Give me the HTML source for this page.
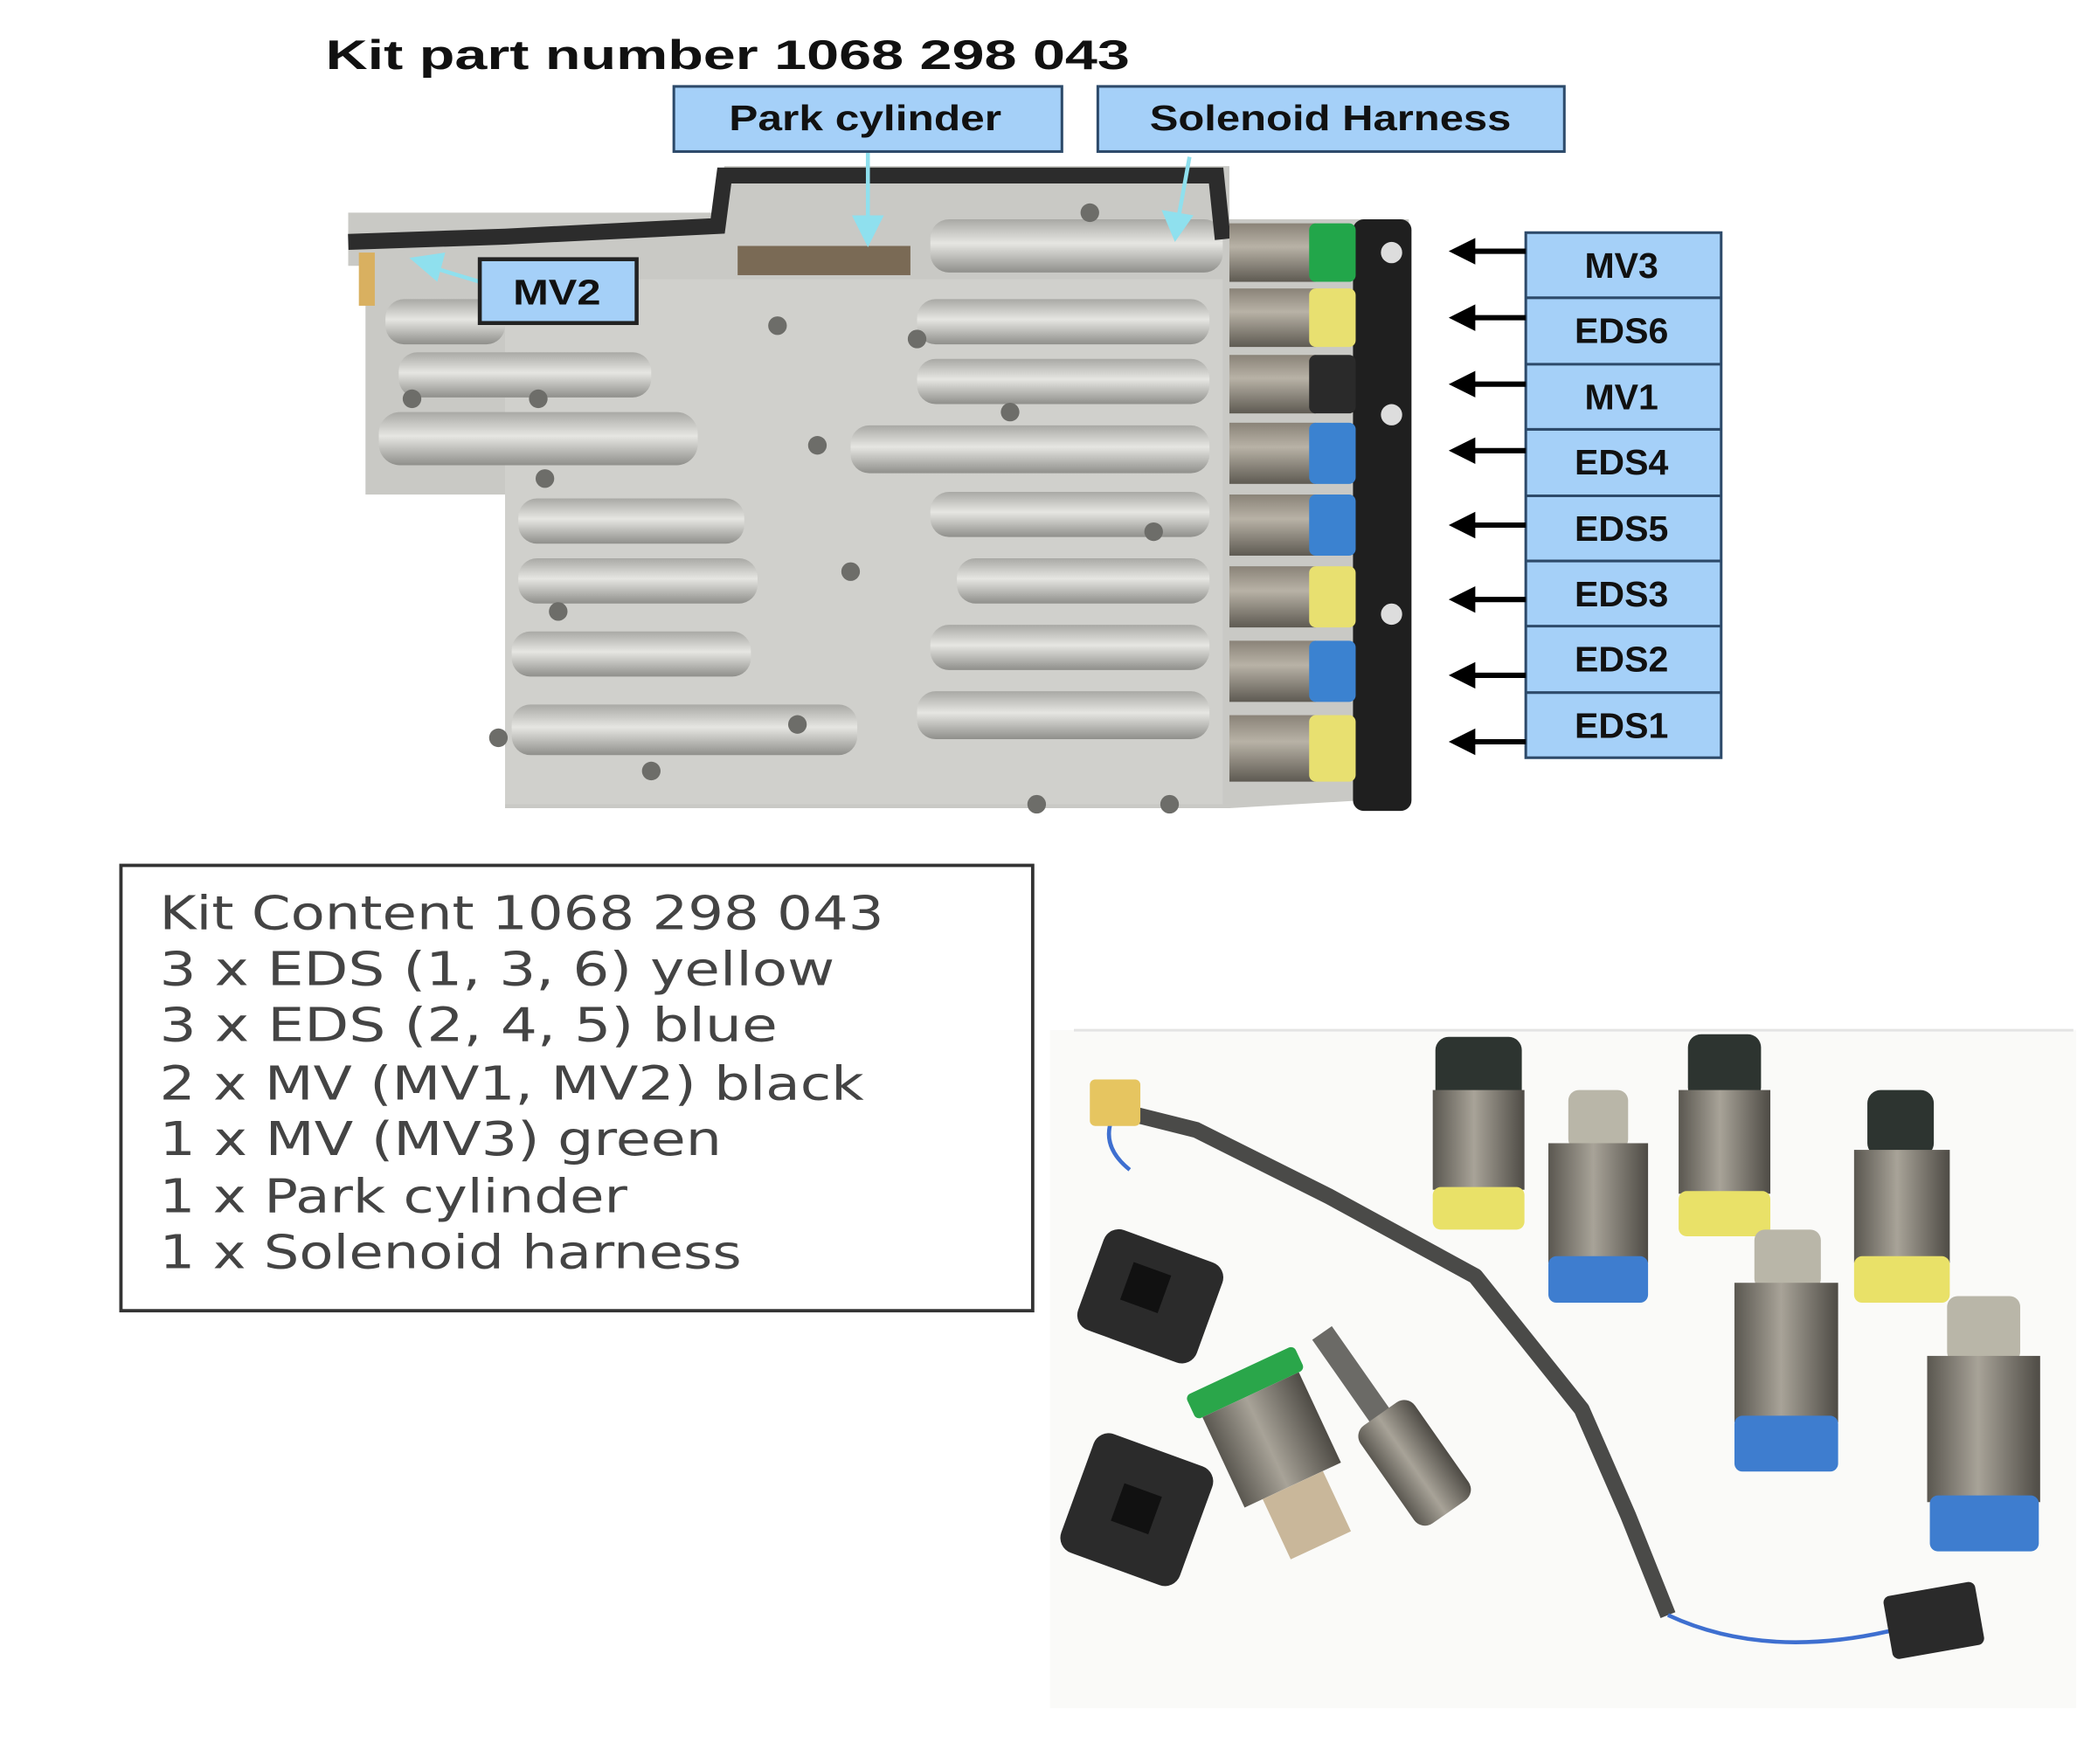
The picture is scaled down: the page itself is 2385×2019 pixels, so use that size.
<!DOCTYPE html>
<html><head><meta charset="utf-8"><style>html,body{margin:0;padding:0;background:#fff}svg{display:block}</style></head>
<body>
<svg width="2385" height="2019" viewBox="0 0 1568 1327" preserveAspectRatio="none" xmlns="http://www.w3.org/2000/svg">
<defs>
<linearGradient id="cyl" x1="0" y1="0" x2="0" y2="1"><stop offset="0" stop-color="#8a8378"/><stop offset=".4" stop-color="#b8b2a6"/><stop offset="1" stop-color="#5e5a52"/></linearGradient>
<linearGradient id="vcyl" x1="0" y1="0" x2="1" y2="0"><stop offset="0" stop-color="#5a5750"/><stop offset=".45" stop-color="#a8a398"/><stop offset="1" stop-color="#4e4b45"/></linearGradient>
<linearGradient id="spool" x1="0" y1="0" x2="0" y2="1"><stop offset="0" stop-color="#a9a9a5"/><stop offset=".45" stop-color="#e6e6e2"/><stop offset="1" stop-color="#8f8f8b"/></linearGradient>
</defs>
<rect width="1568" height="1327" fill="#fff"/>
<text x="245" y="52" font-family="Liberation Sans, sans-serif" font-weight="bold" font-size="31" fill="#111" textLength="605" lengthAdjust="spacingAndGlyphs">Kit part number 1068 298 043</text>

<polygon points="262,160 540,160 545,125 925,125 925,165 1060,165 1060,600 925,608 380,608 380,372 275,372 275,200 262,200" fill="#c9c9c5"/>
<rect x="380" y="210" width="540" height="395" fill="#d0d0cc"/>
<g fill="url(#spool)">
<rect x="290" y="225" width="90" height="34" rx="14"/><rect x="300" y="265" width="190" height="34" rx="14"/><rect x="285" y="310" width="240" height="40" rx="16"/>
<rect x="390" y="375" width="170" height="34" rx="14"/><rect x="390" y="420" width="180" height="34" rx="14"/><rect x="385" y="475" width="180" height="34" rx="14"/><rect x="385" y="530" width="260" height="38" rx="14"/>
<rect x="690" y="225" width="220" height="34" rx="14"/><rect x="690" y="270" width="220" height="34" rx="14"/><rect x="640" y="320" width="270" height="36" rx="14"/>
<rect x="700" y="370" width="210" height="34" rx="14"/><rect x="720" y="420" width="190" height="34" rx="14"/><rect x="700" y="470" width="210" height="34" rx="14"/><rect x="690" y="520" width="220" height="36" rx="14"/>
<rect x="700" y="165" width="220" height="40" rx="14"/>
</g>
<g fill="#6d6d69">
<circle cx="310" cy="300" r="7"/><circle cx="405" cy="300" r="7"/><circle cx="410" cy="360" r="7"/><circle cx="375" cy="555" r="7"/><circle cx="490" cy="580" r="7"/><circle cx="600" cy="545" r="7"/><circle cx="640" cy="430" r="7"/><circle cx="615" cy="335" r="7"/><circle cx="585" cy="245" r="7"/><circle cx="690" cy="255" r="7"/><circle cx="780" cy="605" r="7"/><circle cx="880" cy="605" r="7"/><circle cx="868" cy="400" r="7"/><circle cx="760" cy="310" r="7"/><circle cx="820" cy="160" r="7"/><circle cx="420" cy="460" r="7"/>
</g>
<rect x="555" y="185" width="130" height="22" fill="#7a6a55"/>
<path d="M262,182 L380,178 L540,170 L545,132 L915,132 L920,180" fill="none" stroke="#2c2c2c" stroke-width="12"/>
<rect x="270" y="190" width="12" height="40" fill="#d9b060"/>
<rect x="1018" y="165" width="44" height="445" rx="8" fill="#1f1f1f"/>
<circle cx="1047" cy="190" r="8" fill="#ddd"/><circle cx="1047" cy="312" r="8" fill="#ddd"/><circle cx="1047" cy="462" r="8" fill="#ddd"/>
<g>
<rect x="925" y="168" width="65" height="44" fill="url(#cyl)"/><rect x="985" y="168" width="35" height="44" rx="5" fill="#22a64a"/>
<rect x="925" y="217" width="65" height="44" fill="url(#cyl)"/><rect x="985" y="217" width="35" height="44" rx="5" fill="#e8e070"/>
<rect x="925" y="267" width="65" height="44" fill="url(#cyl)"/><rect x="985" y="267" width="35" height="44" rx="5" fill="#2a2a2a"/>
<rect x="925" y="318" width="65" height="46" fill="url(#cyl)"/><rect x="985" y="318" width="35" height="46" rx="5" fill="#3b82d0"/>
<rect x="925" y="372" width="65" height="46" fill="url(#cyl)"/><rect x="985" y="372" width="35" height="46" rx="5" fill="#3b82d0"/>
<rect x="925" y="426" width="65" height="46" fill="url(#cyl)"/><rect x="985" y="426" width="35" height="46" rx="5" fill="#e8e070"/>
<rect x="925" y="482" width="65" height="46" fill="url(#cyl)"/><rect x="985" y="482" width="35" height="46" rx="5" fill="#3b82d0"/>
<rect x="925" y="538" width="65" height="50" fill="url(#cyl)"/><rect x="985" y="538" width="35" height="50" rx="5" fill="#e8e070"/>
</g>

<g stroke="#8fe0ee" stroke-width="3" fill="#8fe0ee">
<line x1="653" y1="114" x2="653" y2="168"/><polygon points="641,162 665,162 653,186" stroke="none"/>
<line x1="895" y1="118" x2="887" y2="162"/><polygon points="874,158 898,162 884,182" stroke="none"/>
<line x1="361" y1="212" x2="328" y2="202"/><polygon points="335,190 329,212 308,194" stroke="none"/>
</g>

<g font-family="Liberation Sans, sans-serif" font-weight="bold" font-size="27" fill="#111" text-anchor="middle">
<rect x="507" y="65" width="292" height="49" fill="#a5d0f8" stroke="#2d4a6a" stroke-width="2"/>
<text x="651" y="98" textLength="205" lengthAdjust="spacingAndGlyphs">Park cylinder</text>
<rect x="826" y="65" width="351" height="49" fill="#a5d0f8" stroke="#2d4a6a" stroke-width="2"/>
<text x="1001" y="98" textLength="272" lengthAdjust="spacingAndGlyphs">Solenoid Harness</text>
<rect x="361" y="195" width="118" height="48" fill="#a5d0f8" stroke="#222" stroke-width="3"/>
<text x="419" y="229" textLength="66" lengthAdjust="spacingAndGlyphs">MV2</text>
<rect x="1148" y="175" width="147" height="395" fill="#a5d0f8" stroke="#2d4a6a" stroke-width="2"/>
<g stroke="#2d4a6a" stroke-width="2"><line x1="1148" y1="224" x2="1295" y2="224"/><line x1="1148" y1="274" x2="1295" y2="274"/><line x1="1148" y1="323" x2="1295" y2="323"/><line x1="1148" y1="373" x2="1295" y2="373"/><line x1="1148" y1="422" x2="1295" y2="422"/><line x1="1148" y1="471" x2="1295" y2="471"/><line x1="1148" y1="521" x2="1295" y2="521"/></g>
<text x="1220" y="209">MV3</text><text x="1220" y="258">EDS6</text><text x="1220" y="308">MV1</text><text x="1220" y="357">EDS4</text><text x="1220" y="407">EDS5</text><text x="1220" y="456">EDS3</text><text x="1220" y="505">EDS2</text><text x="1220" y="555">EDS1</text>
</g>
<g stroke="#000" stroke-width="4" fill="#000">
<line x1="1148" y1="189" x2="1105" y2="189"/><polygon points="1090,189 1110,179 1110,199" stroke="none"/>
<line x1="1148" y1="239" x2="1105" y2="239"/><polygon points="1090,239 1110,229 1110,249" stroke="none"/>
<line x1="1148" y1="289" x2="1105" y2="289"/><polygon points="1090,289 1110,279 1110,299" stroke="none"/>
<line x1="1148" y1="339" x2="1105" y2="339"/><polygon points="1090,339 1110,329 1110,349" stroke="none"/>
<line x1="1148" y1="395" x2="1105" y2="395"/><polygon points="1090,395 1110,385 1110,405" stroke="none"/>
<line x1="1148" y1="451" x2="1105" y2="451"/><polygon points="1090,451 1110,441 1110,461" stroke="none"/>
<line x1="1148" y1="508" x2="1105" y2="508"/><polygon points="1090,508 1110,498 1110,518" stroke="none"/>
<line x1="1148" y1="558" x2="1105" y2="558"/><polygon points="1090,558 1110,548 1110,568" stroke="none"/>
</g>

<rect x="91" y="651" width="686" height="335" fill="#fff" stroke="#333" stroke-width="2.5"/>
<g font-family="DejaVu Sans, sans-serif" font-size="35" fill="#444" lengthAdjust="spacingAndGlyphs">
<text x="120" y="699" textLength="545" lengthAdjust="spacingAndGlyphs">Kit Content 1068 298 043</text>
<text x="120" y="741" textLength="508" lengthAdjust="spacingAndGlyphs">3 x EDS (1, 3, 6) yellow</text>
<text x="120" y="783" textLength="465" lengthAdjust="spacingAndGlyphs">3 x EDS (2, 4, 5) blue</text>
<text x="120" y="827" textLength="530" lengthAdjust="spacingAndGlyphs">2 x MV (MV1, MV2) black</text>
<text x="120" y="869" textLength="423" lengthAdjust="spacingAndGlyphs">1 x MV (MV3) green</text>
<text x="120" y="912" textLength="352" lengthAdjust="spacingAndGlyphs">1 x Park cylinder</text>
<text x="120" y="954" textLength="438" lengthAdjust="spacingAndGlyphs">1 x Solenoid harness</text>
</g>

<rect x="790" y="775" width="772" height="510" fill="#fafaf8"/>
<line x1="808" y1="775" x2="1560" y2="775" stroke="#e4e4e4" stroke-width="2"/>
<path d="M840,835 L900,850 L1000,900 L1110,960 L1150,1010 L1190,1060 L1225,1140 L1255,1215" fill="none" stroke="#4a4a48" stroke-width="12" stroke-linejoin="round"/>
<path d="M1255,1215 Q1330,1250 1430,1225" fill="none" stroke="#3e6fd0" stroke-width="3"/>
<path d="M840,835 Q825,860 850,880" fill="none" stroke="#3e6fd0" stroke-width="3"/>
<rect x="820" y="812" width="38" height="35" rx="4" fill="#e6c560"/>
<rect x="1420" y="1195" width="70" height="48" rx="5" fill="#2a2a2a" transform="rotate(-10 1455 1219)"/>
<g>
<rect x="1080" y="780" width="65" height="50" rx="10" fill="#2d3430"/><rect x="1078" y="820" width="69" height="75" fill="url(#vcyl)"/><rect x="1078" y="893" width="69" height="32" rx="6" fill="#e9e168"/>
<rect x="1180" y="820" width="45" height="45" rx="8" fill="#b9b6a8"/><rect x="1165" y="860" width="75" height="90" fill="url(#vcyl)"/><rect x="1165" y="945" width="75" height="35" rx="6" fill="#3e7dcf"/>
<rect x="1270" y="778" width="55" height="50" rx="10" fill="#2d3430"/><rect x="1263" y="820" width="69" height="78" fill="url(#vcyl)"/><rect x="1263" y="896" width="69" height="34" rx="6" fill="#e9e168"/>
<rect x="1405" y="820" width="50" height="50" rx="10" fill="#2d3430"/><rect x="1395" y="865" width="72" height="85" fill="url(#vcyl)"/><rect x="1395" y="945" width="72" height="35" rx="6" fill="#e9e168"/>
<rect x="1320" y="925" width="50" height="45" rx="8" fill="#b9b6a8"/><rect x="1305" y="965" width="78" height="105" fill="url(#vcyl)"/><rect x="1305" y="1065" width="78" height="42" rx="6" fill="#3e7dcf"/>
<rect x="1465" y="975" width="55" height="50" rx="8" fill="#b9b6a8"/><rect x="1450" y="1020" width="85" height="110" fill="url(#vcyl)"/><rect x="1452" y="1125" width="82" height="42" rx="6" fill="#3e7dcf"/>
</g>
<g transform="rotate(20 865 975)"><rect x="818" y="935" width="95" height="80" rx="12" fill="#2b2b2b"/><rect x="845" y="955" width="30" height="30" fill="#111"/></g>
<g transform="rotate(20 855 1135)"><rect x="808" y="1088" width="95" height="95" rx="12" fill="#2b2b2b"/><rect x="840" y="1120" width="30" height="30" fill="#111"/></g>
<g transform="rotate(-25 960 1090)"><rect x="915" y="1025" width="90" height="20" rx="4" fill="#2aa64a"/><rect x="920" y="1045" width="80" height="75" fill="url(#vcyl)"/><rect x="935" y="1120" width="50" height="50" fill="#c9b79a"/></g>
<g transform="rotate(-35 1050 1080)"><rect x="1040" y="985" width="18" height="80" fill="#6b6a66"/><rect x="1025" y="1060" width="50" height="90" rx="10" fill="url(#vcyl)"/></g>
</svg>
</body></html>
